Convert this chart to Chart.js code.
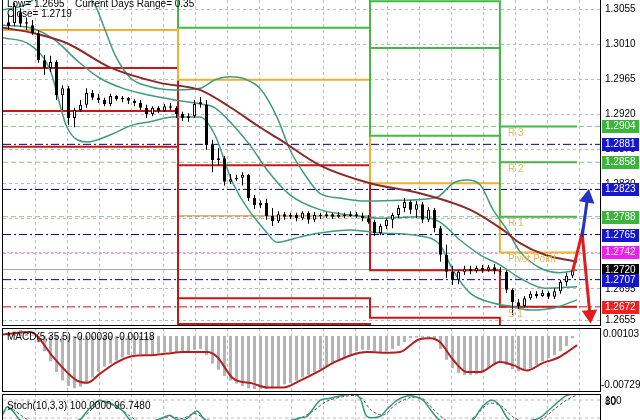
<!DOCTYPE html>
<html>
<head>
<meta charset="utf-8">
<title>EURUSD H1</title>
<script src="https://cdn.jsdelivr.net/npm/chart.js@4.4.1/dist/chart.umd.min.js"></script>
<style>
  html, body { margin: 0; padding: 0; background: #fff; width: 640px; height: 420px; overflow: hidden; }
  canvas { position: absolute; left: 0; }
  #mainChart { top: 0; }
  #macdChart { top: 327px; }
  #stochChart { top: 393px; }
</style>
</head>
<body>
<canvas id="mainChart" width="640" height="327"></canvas>
<canvas id="macdChart" width="640" height="66"></canvas>
<canvas id="stochChart" width="640" height="40"></canvas>
<script>
// price bars, oldest first
const barOpen = [1.3038,1.3037,1.3051,1.3036,1.3034,1.3024,1.2989,1.2979,1.2987,1.2944,
  1.2953,1.2915,1.2925,1.2932,1.2947,1.2941,1.2938,1.2933,1.2943,1.2939,
  1.2941,1.2937,1.2934,1.2928,1.2920,1.2928,1.2924,1.2930,1.2928,1.2920,
  1.2915,1.2917,1.2933,1.2932,1.2880,1.2861,1.2863,1.2833,1.2836,1.2838,
  1.2842,1.2812,1.2803,1.2806,1.2789,1.2782,1.2791,1.2788,1.2790,1.2786,
  1.2793,1.2784,1.2790,1.2789,1.2791,1.2788,1.2790,1.2789,1.2791,1.2789,
  1.2786,1.2781,1.2767,1.2776,1.2784,1.2790,1.2799,1.2807,1.2797,1.2804,
  1.2784,1.2797,1.2773,1.2739,1.2717,1.2707,1.2717,1.2721,1.2718,1.2722,
  1.2719,1.2723,1.2718,1.2717,1.2694,1.2678,1.2673,1.2683,1.2689,1.2686,
  1.2690,1.2685,1.2692,1.2704,1.2712];
const barHigh = [1.3049,1.3063,1.3056,1.3044,1.3041,1.3028,1.2996,1.2995,1.2989,1.2957,
  1.2956,1.2928,1.2938,1.2953,1.2951,1.2946,1.2941,1.2946,1.2944,1.2943,
  1.2942,1.2939,1.2938,1.2932,1.2930,1.2930,1.2933,1.2934,1.2930,1.2923,
  1.2921,1.2938,1.2942,1.2938,1.2887,1.2876,1.2866,1.2843,1.2842,1.2845,
  1.2843,1.2816,1.2809,1.2811,1.2799,1.2795,1.2794,1.2793,1.2793,1.2795,
  1.2795,1.2794,1.2793,1.2794,1.2793,1.2794,1.2793,1.2795,1.2794,1.2793,
  1.2790,1.2784,1.2779,1.2786,1.2793,1.2803,1.2812,1.2809,1.2808,1.2807,
  1.2800,1.2799,1.2776,1.2752,1.2725,1.2719,1.2725,1.2725,1.2725,1.2726,
  1.2726,1.2727,1.2723,1.2719,1.2696,1.2682,1.2686,1.2692,1.2692,1.2694,
  1.2692,1.2696,1.2707,1.2716,1.2722];
const barLow = [1.3028,1.3033,1.3032,1.3028,1.3022,1.2986,1.2970,1.2974,1.2938,1.2925,
  1.2906,1.2903,1.2923,1.2928,1.2938,1.2934,1.2930,1.2930,1.2937,1.2935,
  1.2933,1.2930,1.2925,1.2915,1.2917,1.2921,1.2923,1.2925,1.2915,1.2911,
  1.2910,1.2915,1.2928,1.2874,1.2845,1.2854,1.2828,1.2830,1.2834,1.2828,
  1.2808,1.2798,1.2799,1.2784,1.2776,1.2780,1.2784,1.2785,1.2782,1.2784,
  1.2779,1.2781,1.2785,1.2786,1.2785,1.2786,1.2786,1.2788,1.2786,1.2782,
  1.2779,1.2763,1.2764,1.2772,1.2773,1.2786,1.2794,1.2791,1.2786,1.2780,
  1.2781,1.2768,1.2730,1.2709,1.2700,1.2701,1.2713,1.2714,1.2716,1.2716,
  1.2717,1.2714,1.2713,1.2690,1.2662,1.2669,1.2671,1.2681,1.2683,1.2685,
  1.2682,1.2682,1.2689,1.2699,1.2709];
const barClose = [1.3033,1.3059,1.3036,1.3038,1.3024,1.2989,1.2979,1.2987,1.2944,1.2953,
  1.2915,1.2925,1.2932,1.2947,1.2941,1.2938,1.2933,1.2943,1.2939,1.2941,
  1.2937,1.2934,1.2928,1.2920,1.2928,1.2924,1.2930,1.2928,1.2920,1.2915,
  1.2917,1.2933,1.2935,1.2880,1.2861,1.2863,1.2833,1.2836,1.2838,1.2842,
  1.2812,1.2803,1.2806,1.2789,1.2782,1.2791,1.2788,1.2790,1.2786,1.2793,
  1.2784,1.2790,1.2789,1.2791,1.2788,1.2790,1.2789,1.2791,1.2789,1.2786,
  1.2781,1.2767,1.2776,1.2784,1.2790,1.2799,1.2807,1.2797,1.2804,1.2784,
  1.2797,1.2773,1.2739,1.2717,1.2707,1.2717,1.2721,1.2718,1.2722,1.2719,
  1.2723,1.2718,1.2717,1.2694,1.2678,1.2673,1.2683,1.2689,1.2686,1.2690,
  1.2685,1.2692,1.2704,1.2712,1.2719];

const priceTicks = [1.3055, 1.3010, 1.2965, 1.2920, 1.2875, 1.2830, 1.2785, 1.2740, 1.2695, 1.2655];

// indicator lines as [bar index, value]
const maLine = [[-0.92,1.3031],[3.6,1.3025],[9.75,1.3011],[16.9,1.2980],[25.25,1.2960],[31.9,1.2951],
  [36.9,1.2929],[41.9,1.2903],[45.25,1.2887],[51.9,1.2854],[60.25,1.2831],[68.6,1.2818],[76.9,1.2797],
  [82.4,1.2771],[85.25,1.2754],[89.4,1.2739],[94.75,1.2730]];
const bbUpper = [[-0.92,1.3054],[2.75,1.3060],[6.9,1.3080],[11.9,1.3077],[14.4,1.3060],[16.1,1.3028],
  [17.75,1.2996],[20.25,1.2967],[23.6,1.2955],[27.75,1.2951],[31.9,1.2953],[34.4,1.2964],[36.9,1.2968],
  [39.4,1.2965],[41.9,1.2953],[44.75,1.2916],[46.9,1.2874],[49.75,1.2838],[51.9,1.2818],[55.25,1.2812],
  [59.4,1.2808],[65.25,1.2809],[71.4,1.2813],[74.1,1.2831],[76.4,1.2835],[78.6,1.2829],[80.75,1.2797],
  [83.1,1.2771],[85.25,1.2743],[88.6,1.2722],[91.9,1.2716],[94.75,1.2719]];
const bbMiddle = [[-0.92,1.3034],[3.6,1.3031],[7.75,1.3015],[11.4,1.2989],[15.25,1.2966],[19.1,1.2953],
  [23.6,1.2944],[27.75,1.2938],[31.9,1.2933],[34.4,1.2928],[37.4,1.2906],[40.25,1.2880],[43.1,1.2848],
  [46.9,1.2816],[51.9,1.2797],[56.9,1.2790],[61.9,1.2786],[68.6,1.2788],[71.9,1.2781],[75.25,1.2758],
  [78.6,1.2739],[81.9,1.2726],[85.25,1.2709],[89.4,1.2696],[94.75,1.2698]];
const bbLower = [[-0.92,1.3018],[3.6,1.3009],[6.9,1.2977],[9.75,1.2903],[13.1,1.2884],[16.9,1.2893],
  [20.75,1.2906],[23.6,1.2910],[27.4,1.2916],[31.9,1.2916],[34.4,1.2893],[37.4,1.2831],[43.1,1.2767],
  [44.75,1.2755],[48.6,1.2762],[51.9,1.2767],[56.9,1.2771],[61.9,1.2767],[68.6,1.2763],[71.9,1.2752],
  [74.1,1.2719],[76.9,1.2690],[80.75,1.2677],[83.6,1.2673],[86.9,1.2668],[91.1,1.2671],[94.75,1.2681]];

// daily pivot levels, one value per day
const dayStart = [-0.92, 28.25, 60.25, 81.9];
const dayEnd = 94.75;
const pivotR3 = [1.3200, 1.3160, 1.3065, 1.2904];
const pivotR2 = [1.3160, 1.3110, 1.3005, 1.2858];
const pivotR1 = [1.3110, 1.3031, 1.2892, 1.2788];
const pivotPP = [1.3028, 1.2964, 1.2831, 1.2742];
const pivotS1 = [1.2979, 1.2854, 1.2719, 1.2672];
const pivotS2 = [1.2924, 1.2683, 1.2658, 1.2630];
const pivotS3 = [1.2878, 1.2650, 1.2600, 1.2580];
const day2Mid = 1.2789;
const pivotNames = ['R 3', 'R 2', 'R 1', 'Pivot Point', 'S 1'];

// horizontal levels marked on the price scale
const levelPrices = [1.2904, 1.2881, 1.2858, 1.2823, 1.2788, 1.2765, 1.2742, 1.2720, 1.2707, 1.2672];
const levelKinds = ['r', 'b', 'r', 'b', 'r', 'b', 'p', 'c', 'b', 's'];

// forecast arrows [bar index, price]
const arrowUp = [[95.6, 1.2762], [96.5, 1.2812]];
const arrowDown = [[94.0, 1.2717], [95.6, 1.2767], [96.9, 1.2662]];

const infoLow = 'Low= 1.2695';
const infoRange = 'Current Days Range= 0.35';
const infoClose = 'Close= 1.2719';

// MACD window
const macdHist = [0.0003,0.0006,0.0008,0.0006,0.0001,-0.0008,-0.0020,-0.0033,-0.0047,-0.0058,
  -0.0065,-0.0068,-0.0066,-0.0061,-0.0054,-0.0047,-0.0040,-0.0036,-0.0032,-0.0028,
  -0.0025,-0.0024,-0.0024,-0.0024,-0.0024,-0.0022,-0.0021,-0.0021,-0.0021,-0.0020,
  -0.0020,-0.0018,-0.0017,-0.0025,-0.0036,-0.0044,-0.0052,-0.0058,-0.0062,-0.0065,
  -0.0068,-0.0069,-0.0069,-0.0069,-0.0068,-0.0066,-0.0063,-0.0061,-0.0058,-0.0054,
  -0.0051,-0.0047,-0.0043,-0.0039,-0.0035,-0.0032,-0.0028,-0.0024,-0.0020,-0.0018,
  -0.0018,-0.0020,-0.0021,-0.0020,-0.0017,-0.0013,-0.0008,-0.0003,-0.0002,-0.0002,
  -0.0002,-0.0005,-0.0017,-0.0031,-0.0042,-0.0048,-0.0051,-0.0051,-0.0050,-0.0047,
  -0.0042,-0.0038,-0.0035,-0.0038,-0.0043,-0.0046,-0.0044,-0.0042,-0.0038,-0.0033,
  -0.0029,-0.0025,-0.0020,-0.0013,-0.0003];
const macdSignal = [[-0.92,0.0002],[3.6,0.0005],[4.75,0.0000],[7.4,-0.0027],[11.4,-0.0058],[13.1,-0.0061],
  [15.25,-0.0049],[18.1,-0.0034],[20.75,-0.0026],[23.6,-0.0025],[26.4,-0.0023],[29.1,-0.0021],[33.1,-0.0021],
  [34.75,-0.0027],[37.4,-0.0055],[40.75,-0.0062],[43.1,-0.0067],[45.75,-0.0067],[48.6,-0.0058],[51.9,-0.0045],
  [54.1,-0.0035],[59.75,-0.0021],[63.6,-0.0022],[65.25,-0.0021],[68.6,-0.0004],[70.25,-0.0003],[71.9,-0.0008],
  [74.1,-0.0031],[76.4,-0.0047],[78.6,-0.0047],[81.9,-0.0034],[84.1,-0.0038],[86.4,-0.0045],[89.1,-0.0035],
  [91.4,-0.0029],[93.1,-0.0021],[94.75,-0.0012]];
const macdTitle = 'MACD(5,35,5) -0.00030 -0.00118';
const macdMax = 0.00103;
const macdMin = -0.00729;

// Stochastic window
const stochMain = [[-0.92,32],[-0.25,57],[0.75,43],[1.9,14],[3.6,5],[6.9,3],[10.25,4],[11.9,14],[13.1,43],
  [14.75,75],[15.25,79],[16.9,68],[19.1,43],[20.25,14],[21.9,4],[24.4,11],[25.75,21],[26.9,29],[28.1,14],
  [29.4,14],[31.4,43],[32.4,21],[33.6,4],[36.9,2],[41.9,4],[46.9,11],[48.6,21],[49.75,25],[51.9,79],
  [53.6,86],[55.75,96],[57.4,100],[58.6,86],[59.75,25],[61.9,25],[63.1,50],[64.75,79],[66.4,93],[67.4,93],
  [69.1,79],[70.25,50],[71.4,21],[72.75,4],[75.25,1],[77.4,14],[79.1,61],[80.6,79],[81.9,61],[83.1,21],
  [84.4,4],[86.9,11],[88.6,21],[90.25,50],[91.9,79],[93.1,96],[94.75,100]];
const stochSignal = [[-0.92,40],[0.5,50],[2,30],[4,8],[10.5,4],[12.5,25],[14.5,60],[16,76],[18,60],[20,30],
  [22,8],[25,15],[27,25],[29,18],[31,35],[33,15],[36,4],[42,3],[48,15],[50.5,40],[53,75],[56,92],[58.5,92],
  [60.5,45],[62.5,30],[64.5,65],[67,88],[69,85],[71,45],[73,12],[76,3],[78,30],[80,68],[82,62],[84,25],
  [86,8],[89,18],[91,50],[93,80],[94.75,96.7]];
const stochTitle = 'Stoch(10,3,3) 100.0000 96.7480';
const stochLevels = [80, 20];

// ---------------------------------------------------------------
const FONT = "'Liberation Sans', Arial, sans-serif";
Chart.defaults.font.family = FONT;
Chart.defaults.font.size = 10;
Chart.defaults.color = '#000';

const X_MIN = -0.9167, X_MAX = 98.5833;   // 6 px per bar, bar 0 at x = 8.5
const P_MIN = 1.26474, P_MAX = 1.30666;
const GRID = '#bcbcbc';
const RED = '#cc1616', GREEN = '#46b846', ORANGE = '#f0b030';

const levelStyle = {
  r: { line: '#8cc48c', dash: [5, 3], box: '#3cb43c' },
  b: { line: '#000080', dash: [8, 3, 2, 3], box: '#1616d0' },
  p: { line: '#ff80ff', dash: [2, 2], box: '#ee1eee' },
  c: { line: '#a8a8a8', dash: [], box: '#000000' },
  s: { line: '#d01010', dash: [8, 3, 2, 3], box: '#f02020' }
};

function timeAxis() {
  return {
    type: 'linear', min: X_MIN, max: X_MAX, offset: false,
    ticks: { display: false },
    grid: { color: GRID, drawTicks: false, offset: false },
    border: { display: false, dash: [3, 3] },
    afterBuildTicks: s => {
      const t = [];
      for (let v = 4.583; v < X_MAX; v += 16 / 3) t.push({ value: v });
      s.ticks = t;
    },
    afterFit: s => { s.height = 0; s.paddingLeft = 0; s.paddingRight = 0; }
  };
}

function sideAxis(min, max) {
  return {
    position: 'right', min: min, max: max,
    grid: { display: false, drawTicks: false },
    border: { display: false },
    ticks: { display: false },
    afterFit: s => { s.width = 40; s.paddingTop = 0; s.paddingBottom = 0; }
  };
}

function line(points, color, width, extra) {
  return Object.assign({
    type: 'line',
    data: points.map(p => ({ x: p[0], y: p[1] })),
    borderColor: color, borderWidth: width,
    pointRadius: 0, fill: false, clip: 0
  }, extra || {});
}

function stepPoints(vals) {
  const pts = vals.map((v, d) => [dayStart[d], v]);
  pts.push([dayEnd, vals[vals.length - 1]]);
  return pts;
}

const baseOptions = {
  responsive: false,
  animation: false,
  events: [],
  plugins: { legend: { display: false }, tooltip: { enabled: false } }
};

function frame(ctx, a, top, bottom) {
  ctx.strokeStyle = '#000';
  ctx.lineWidth = 1;
  ctx.beginPath();
  ctx.moveTo(a.left - 0.5, a.top); ctx.lineTo(a.left - 0.5, a.bottom);
  ctx.moveTo(a.right + 0.5, a.top); ctx.lineTo(a.right + 0.5, a.bottom);
  if (top) { ctx.moveTo(a.left - 1, a.top + 0.5); ctx.lineTo(a.right + 1, a.top + 0.5); }
  if (bottom) { ctx.moveTo(a.left - 1, a.bottom - 0.5); ctx.lineTo(a.right + 1, a.bottom - 0.5); }
  ctx.stroke();
}

// ---------------- main price window ----------------
const barIdx = barOpen.map((_, i) => i);
const bodyColors = barIdx.map(i => barClose[i] >= barOpen[i] ? '#ffffff' : '#000000');

const levelSets = levelPrices.map((v, k) => line([[X_MIN, v], [X_MAX, v]],
  levelStyle[levelKinds[k]].line, 1, { borderDash: levelStyle[levelKinds[k]].dash, order: 12 }));

const pivotSets = [
  line(stepPoints(pivotR3), GREEN, 2, { stepped: 'before', order: 9 }),
  line(stepPoints(pivotR2), GREEN, 2, { stepped: 'before', order: 9 }),
  line(stepPoints(pivotR1), GREEN, 2, { stepped: 'before', order: 9 }),
  line(stepPoints(pivotPP), ORANGE, 2, { stepped: 'before', order: 9 }),
  line(stepPoints(pivotS1), RED, 2, { stepped: 'before', order: 9 }),
  line(stepPoints(pivotS2), RED, 2, { stepped: 'before', order: 9 }),
  line(stepPoints(pivotS3), RED, 2, { stepped: 'before', order: 9 }),
  line([[dayStart[1], day2Mid], [dayStart[2], day2Mid]], '#c8803a', 1, { order: 9 })
];
const labelLevels = [pivotR3, pivotR2, pivotR1, pivotPP, pivotS1];

const mainDecor = {
  id: 'mainDecor',
  afterDraw(chart) {
    const { ctx, chartArea: a, scales: { x, y } } = chart;
    ctx.save();
    frame(ctx, a, false, true);
    ctx.font = '10px ' + FONT;
    ctx.textBaseline = 'alphabetic';
    ctx.fillStyle = '#000';
    ctx.fillText(infoLow, 7, 7);
    ctx.fillText(infoRange, 75, 7);
    ctx.fillText(infoClose, 7, 17);

    ctx.textBaseline = 'middle';
    ctx.fillStyle = '#e9b35a';
    const px = x.getPixelForValue(dayStart[3]) + 8;
    pivotNames.forEach((name, k) => {
      ctx.fillText(name, px, y.getPixelForValue(labelLevels[k][3]) + 7);
    });

    // price scale labels, then the marked levels on top of them
    ctx.fillStyle = '#000';
    priceTicks.forEach(v => ctx.fillText(v.toFixed(4), a.right + 5, Math.round(y.getPixelForValue(v)) + 0.5));
    levelPrices.forEach((v, k) => {
      const py = Math.round(y.getPixelForValue(v));
      ctx.fillStyle = levelStyle[levelKinds[k]].box;
      ctx.fillRect(a.right + 2, py - 6, 37, 13);
      ctx.fillStyle = '#fff';
      ctx.fillText(v.toFixed(4), a.right + 5, py + 0.5);
    });
    ctx.restore();
  }
};

new Chart(document.getElementById('mainChart'), {
  type: 'line',
  data: {
    datasets: [
      ...levelSets,
      ...pivotSets,
      line(bbUpper, '#3e9c7c', 1.5, { cubicInterpolationMode: 'monotone', order: 6 }),
      line(bbMiddle, '#3e9c7c', 1.5, { cubicInterpolationMode: 'monotone', order: 6 }),
      line(bbLower, '#3e9c7c', 1.5, { cubicInterpolationMode: 'monotone', order: 6 }),
      line(maLine, '#8c2a2a', 2, { cubicInterpolationMode: 'monotone', order: 5 }),
      {
        type: 'bar', order: 4, grouped: false, barThickness: 1, inflateAmount: 0,
        data: barIdx.map(i => ({ x: i, y: [barLow[i], barHigh[i]] })),
        backgroundColor: '#000'
      },
      {
        type: 'bar', order: 3, grouped: false, barThickness: 3, inflateAmount: 0,
        data: barIdx.map(i => ({ x: i, y: [barOpen[i], barClose[i]] })),
        backgroundColor: bodyColors, borderColor: '#000', borderWidth: 1, borderSkipped: false
      },
      line(arrowUp, '#2234c8', 3, {
        order: 1, pointRadius: [0, 6], pointStyle: 'triangle', pointRotation: 9,
        pointBackgroundColor: '#2234c8', pointBorderColor: '#2234c8'
      }),
      line(arrowDown, '#e01c1c', 3, {
        order: 1, pointRadius: [0, 0, 6], pointStyle: 'triangle', pointRotation: 175,
        pointBackgroundColor: '#e01c1c', pointBorderColor: '#e01c1c'
      })
    ]
  },
  options: Object.assign({}, baseOptions, {
    layout: { autoPadding: false, padding: { left: 3, top: 0, right: 0, bottom: 1 } },
    scales: {
      x: timeAxis(),
      y: {
        position: 'right', min: P_MIN, max: P_MAX,
        grid: { color: GRID, drawTicks: false },
        border: { display: false, dash: [3, 3] },
        ticks: { display: false },
        afterBuildTicks: s => { s.ticks = priceTicks.map(v => ({ value: v })); },
        afterFit: s => { s.width = 40; s.paddingTop = 0; s.paddingBottom = 0; }
      }
    }
  }),
  plugins: [mainDecor]
});

// ---------------- MACD window ----------------
const macdDecor = {
  id: 'macdDecor',
  afterDraw(chart) {
    const { ctx, chartArea: a } = chart;
    ctx.save();
    frame(ctx, a, true, true);
    ctx.font = '10px ' + FONT;
    ctx.textBaseline = 'middle';
    ctx.fillStyle = '#000';
    ctx.fillText(macdTitle, 7, a.top + 9);
    ctx.fillText(macdMax.toFixed(5), a.right + 3, a.top + 6);
    ctx.fillText(macdMin.toFixed(5), a.right + 1, a.bottom - 7);
    ctx.restore();
  }
};

new Chart(document.getElementById('macdChart'), {
  type: 'line',
  data: {
    datasets: [
      {
        type: 'bar', order: 2, grouped: false, barThickness: 3, inflateAmount: 0,
        data: macdHist.map((v, i) => ({ x: i, y: v })),
        backgroundColor: '#b4b4b4'
      },
      line(macdSignal, '#b41e1e', 2, { cubicInterpolationMode: 'monotone', order: 1 })
    ]
  },
  options: Object.assign({}, baseOptions, {
    layout: { autoPadding: false, padding: { left: 3, top: 1, right: 0, bottom: 1 } },
    scales: { x: timeAxis(), y: sideAxis(macdMin, macdMax) }
  }),
  plugins: [macdDecor]
});

// ---------------- Stochastic window ----------------
const stochDecor = {
  id: 'stochDecor',
  afterDraw(chart) {
    const { ctx, chartArea: a, scales: { y } } = chart;
    ctx.save();
    frame(ctx, a, true, false);
    ctx.font = '10px ' + FONT;
    ctx.textBaseline = 'middle';
    ctx.fillStyle = '#000';
    ctx.fillText(stochTitle, 7, a.top + 12);
    ctx.fillText('100', a.right + 5, a.top + 7);
    ctx.fillText(String(stochLevels[0]), a.right + 5, y.getPixelForValue(stochLevels[0]) + 2);
    ctx.restore();
  }
};

new Chart(document.getElementById('stochChart'), {
  type: 'line',
  data: {
    datasets: [
      ...stochLevels.map(v => line([[X_MIN, v], [X_MAX, v]], GRID, 1, { borderDash: [3, 3], order: 5 })),
      line(stochSignal, '#505050', 1, { borderDash: [3, 2], tension: 0.3, order: 2 }),
      line(stochMain, '#35977a', 1.5, { tension: 0.3, order: 1 })
    ]
  },
  options: Object.assign({}, baseOptions, {
    layout: { autoPadding: false, padding: { left: 3, top: 1, right: 0, bottom: 9 } },
    scales: { x: timeAxis(), y: sideAxis(0, 100) }
  }),
  plugins: [stochDecor]
});
</script>
</body>
</html>
